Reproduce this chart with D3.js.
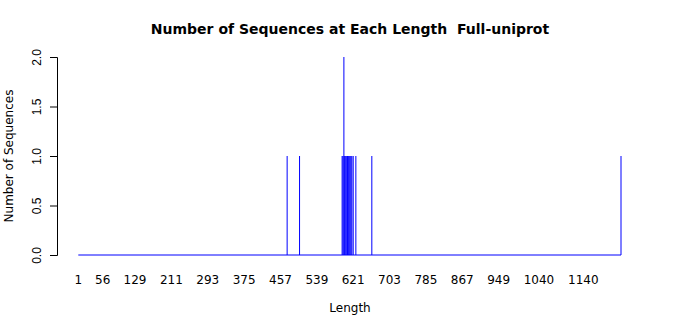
<!DOCTYPE html>
<html>
<head>
<meta charset="utf-8">
<script src="https://cdn.jsdelivr.net/npm/d3@7"></script>
<style>
  body { margin: 0; background: #fff; }
  svg { font-family: "DejaVu Sans", sans-serif; }
</style>
</head>
<body>
<div id="chart"></div>
<script>
// sequence lengths that have at least one sequence, and their counts
const lengths = [472, 500, 596, 598, 600, 601, 603, 605, 607, 608, 610, 612, 614, 616, 618, 621, 627, 663, 1225];
const counts  = [1,   1,   1,   1,   2,   1,   1,   1,   1,   1,   1,   1,   1,   1,   1,   1,   1,   1,   1];
const maxLength = 1225;
const xTickLabels = [1, 56, 129, 211, 293, 375, 457, 539, 621, 703, 785, 867, 949, 1040, 1140];
const yTicks = [0, 0.5, 1, 1.5, 2];

const width = 700, height = 315;

const svg = d3.select("#chart").append("svg")
  .attr("width", width)
  .attr("height", height);

const x = d3.scaleLinear().domain([1, maxLength]).range([78.3, 621]);
const y = d3.scaleLinear().domain([0, 2]).range([255, 57]);

// zero-height bars for every length show up as a blue baseline
svg.append("line")
  .attr("x1", x(1)).attr("x2", x(maxLength))
  .attr("y1", y(0)).attr("y2", y(0))
  .attr("stroke", "#0000ff")
  .attr("stroke-width", 1);

svg.selectAll("rect.bar")
  .data(lengths)
  .enter()
  .append("rect")
  .attr("class", "bar")
  .attr("x", d => x(d) - 0.5)
  .attr("y", (d, i) => y(counts[i]))
  .attr("width", 1)
  .attr("height", (d, i) => y(0) - y(counts[i]))
  .attr("fill", "#0000ff");

// y axis
const yAxis = d3.axisLeft(y)
  .tickValues(yTicks)
  .tickFormat(d3.format(".1f"))
  .tickSizeOuter(0)
  .tickSize(7);

const gy = svg.append("g")
  .attr("transform", "translate(57,0)")
  .call(yAxis);
gy.select(".domain").attr("stroke", "#000");
gy.selectAll(".tick line").attr("stroke", "#000");
gy.selectAll(".tick text")
  .attr("font-size", 12)
  .attr("fill", "#000")
  .attr("x", 0)
  .attr("y", 0)
  .attr("dy", null)
  .attr("transform", "translate(-16,0) rotate(-90)")
  .attr("text-anchor", "middle");

// x labels (no axis line)
svg.selectAll("text.xlab")
  .data(xTickLabels)
  .enter()
  .append("text")
  .attr("class", "xlab")
  .attr("x", d => x(d))
  .attr("y", 284)
  .attr("text-anchor", "middle")
  .attr("font-size", 12)
  .attr("fill", "#000")
  .text(d => d);

// titles
svg.append("text")
  .attr("x", 350)
  .attr("y", 34)
  .attr("text-anchor", "middle")
  .attr("font-size", 14)
  .attr("font-weight", "bold")
  .style("white-space", "pre")
  .text("Number of Sequences at Each Length  Full-uniprot");

svg.append("text")
  .attr("x", 350)
  .attr("y", 312)
  .attr("text-anchor", "middle")
  .attr("font-size", 12)
  .text("Length");

svg.append("text")
  .attr("transform", "translate(13,156) rotate(-90)")
  .attr("text-anchor", "middle")
  .attr("font-size", 12)
  .text("Number of Sequences");
</script>
</body>
</html>
